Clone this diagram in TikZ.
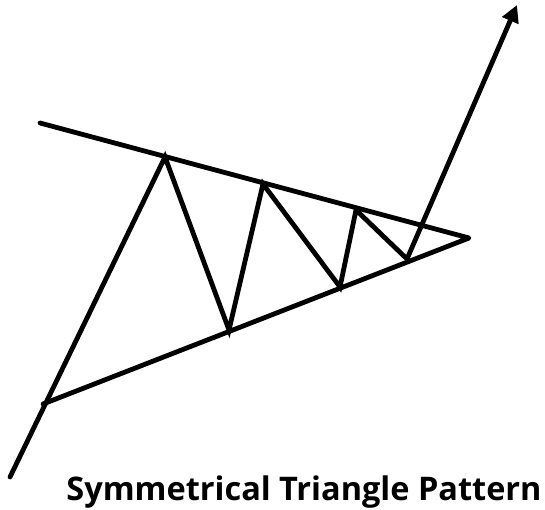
\documentclass[tikz,border=0pt]{standalone}
\usepackage{fontspec}
\setmainfont{Open Sans}
\usetikzlibrary{arrows.meta}
\begin{document}
\begin{tikzpicture}[x=1pt,y=-1pt,
  trend/.style={line width=4.8pt,line cap=round,line join=round,black},
  price/.style={line width=4.8pt,line cap=round,line join=miter,black},
  caption/.style={font=\bfseries\fontsize{32.5}{38}\selectfont,anchor=base,inner sep=0pt}]
\useasboundingbox (0,0) rectangle (545,510);
\coordinate (ul) at (40,123);
\coordinate (ll) at (43,404);
\coordinate (apex) at (469,238);
\coordinate (s) at (10,477);
\coordinate (p1) at (165,157);
\coordinate (t1) at (229,330);
\coordinate (p2) at (263,184);
\coordinate (t2) at (340,287);
\coordinate (p3) at (356,210);
\coordinate (t3) at (407,259);
\coordinate (e) at (517,5);
\draw[trend] (ul) -- (apex) -- (ll);
\draw[price,-{Triangle[length=17pt,width=17pt]}] (s) -- (p1) -- (t1) -- (p2) -- (t2) -- (p3) -- (t3) -- (e);
\node[caption] (cap) at (304,500) {Symmetrical Triangle Pattern};
\end{tikzpicture}
\end{document}
